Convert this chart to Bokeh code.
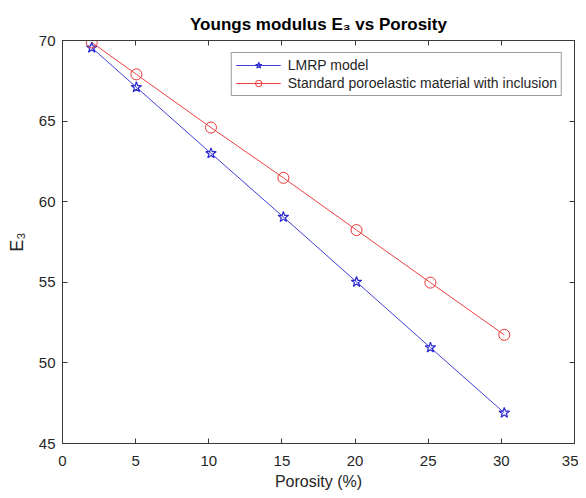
from bokeh.plotting import figure
from bokeh.models import Range1d, LinearAxis, FixedTicker, CustomJSTickFormatter
from bokeh.embed import file_html
from bokeh.resources import INLINE

# ---- data ----
porosity = [2.0, 5.05, 10.15, 15.1, 20.1, 25.15, 30.2]
lmrp = [69.55, 67.1, 63.0, 59.05, 55.02, 50.95, 46.9]
standard = [69.88, 67.9, 64.6, 61.48, 58.24, 54.98, 51.74]
x_ticks = [0, 5, 10, 15, 20, 25, 30, 35]
y_ticks = [45, 50, 55, 60, 65, 70]
series_names = ["LMRP model", "Standard poroelastic material with inclusion"]
title_text = "Youngs modulus E\u2083 vs Porosity"
x_label = "Porosity (%)"
y_label = "E\u2083"

# ---- layout ----
W, H = 578, 496
BL, BR, BT, BB = 62, 4, 40, 53
X0, X1, Y0, Y1 = 0, 35, 45, 70
FONT = "Liberation Sans"
AX = "#3a3a3a"
TXT = "#262626"

p = figure(width=W, height=H, output_backend="svg", toolbar_location=None,
           x_range=Range1d(X0, X1), y_range=Range1d(Y0, Y1),
           min_border_left=BL, min_border_right=BR,
           min_border_top=BT, min_border_bottom=BB)
p.xgrid.visible = False
p.ygrid.visible = False
p.outline_line_color = AX
p.outline_line_width = 1
p.background_fill_color = "white"
p.border_fill_color = "white"

p.title.text = title_text
p.title.align = "center"
p.title.text_font = FONT
p.title.text_font_size = "17px"
p.title.text_font_style = "bold"
p.title.text_color = "black"
p.title.standoff = 13

def style(ax, ticks, labels=True):
    ax.ticker = FixedTicker(ticks=ticks)
    ax.major_tick_in = 5
    ax.major_tick_out = 0
    ax.minor_tick_line_color = None
    ax.axis_line_color = AX
    ax.major_tick_line_color = AX
    if labels:
        ax.major_label_text_font = FONT
        ax.major_label_text_font_size = "15px"
        ax.major_label_text_color = TXT
    else:
        ax.formatter = CustomJSTickFormatter(code="return ''")
        ax.major_label_text_font_size = "6px"
        ax.major_label_standoff = 0

style(p.xaxis[0], x_ticks)
p.xaxis[0].major_label_standoff = 12
p.xaxis[0].axis_label = x_label
p.xaxis[0].axis_label_text_font = FONT
p.xaxis[0].axis_label_text_font_size = "16px"
p.xaxis[0].axis_label_text_font_style = "normal"
p.xaxis[0].axis_label_text_color = TXT
p.xaxis[0].axis_label_standoff = 4

style(p.yaxis[0], y_ticks)
p.yaxis[0].major_label_standoff = 7
p.yaxis[0].axis_label = y_label
p.yaxis[0].axis_label_text_font = FONT
p.yaxis[0].axis_label_text_font_size = "18px"
p.yaxis[0].axis_label_text_font_style = "normal"
p.yaxis[0].axis_label_text_color = TXT
p.yaxis[0].axis_label_standoff = 9

top_ax = LinearAxis()
style(top_ax, x_ticks, labels=False)
p.add_layout(top_ax, "above")
right_ax = LinearAxis()
style(right_ax, y_ticks, labels=False)
p.add_layout(right_ax, "right")

# ---- series ----
BLUE_LINE, BLUE_MK = "#4040d8", "#2a2ad0"
RED_LINE, RED_MK = "#ee4040", "#e83535"
p.line(porosity, lmrp, line_color=BLUE_LINE, line_width=1, legend_label=series_names[0])
p.scatter(porosity, lmrp, marker="star", size=11, line_color=BLUE_MK, line_width=1.2,
          fill_color=None, legend_label=series_names[0])
p.line(porosity, standard, line_color=RED_LINE, line_width=1, legend_label=series_names[1])
p.scatter(porosity, standard, marker="circle", size=11, line_color=RED_MK, line_width=1,
          fill_color=None, legend_label=series_names[1])

lg = p.legend[0]
lg.location = "top_right"
lg.margin = 12
lg.padding = 4
lg.spacing = 2
lg.glyph_width = 45
lg.glyph_height = 16
lg.label_height = 16
lg.label_standoff = 7
lg.label_text_font = FONT
lg.label_text_font_size = "14px"
lg.label_text_color = TXT
lg.border_line_color = AX
lg.border_line_width = 1
lg.background_fill_color = "white"
lg.background_fill_alpha = 1

open("out.html", "w").write(file_html(p, INLINE))
